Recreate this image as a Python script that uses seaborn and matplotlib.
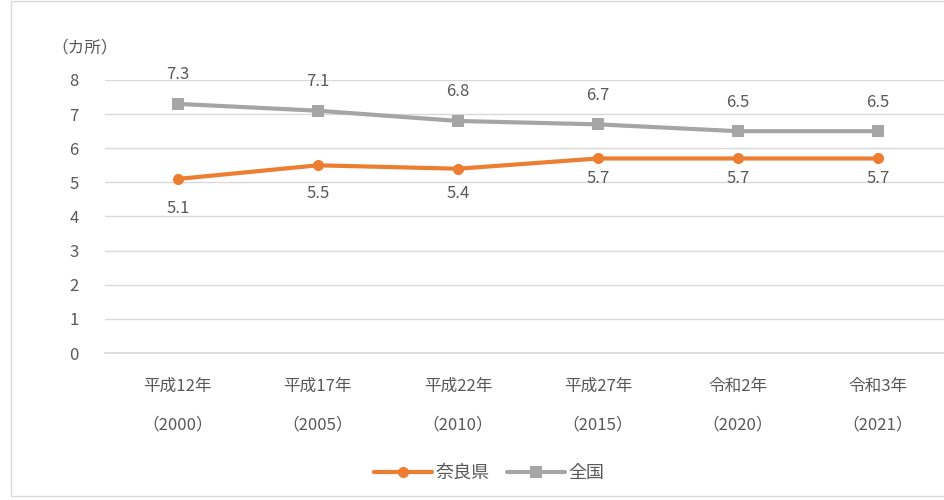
import pandas as pd
import matplotlib.pyplot as plt
import seaborn as sns

years = ["平成12年\n（2000）", "平成17年\n（2005）", "平成22年\n（2010）",
         "平成27年\n（2015）", "令和2年\n（2020）", "令和3年\n（2021）"]
nara = [5.1, 5.5, 5.4, 5.7, 5.7, 5.7]
zenkoku = [7.3, 7.1, 6.8, 6.7, 6.5, 6.5]

df = pd.DataFrame({
    "year": years * 2,
    "value": nara + zenkoku,
    "area": ["奈良県"] * len(years) + ["全国"] * len(years),
})

sns.set_theme(style="white")
plt.rcParams['font.family'] = ['Noto Sans CJK JP', 'DejaVu Sans']
txt = "#595959"

fig = plt.figure(figsize=(9.44, 5), dpi=100)
ax = fig.add_axes([0.111, 0.294, 0.889, 0.546])

palette = {"奈良県": "#ED7D31", "全国": "#A5A5A5"}
sns.lineplot(data=df, x="year", y="value", hue="area", style="area",
             markers={"奈良県": "o", "全国": "s"}, dashes=False,
             palette=palette, linewidth=3, markersize=8,
             markeredgewidth=0, sort=False, ax=ax)

# label offsets (points) as placed in the original chart
nara_off = [-21.5, -20, -17.5, -14.5, -14.5, -14.5]
for i, v in enumerate(zenkoku):
    ax.annotate(f"{v}", (i, v), xytext=(0, 21), textcoords="offset points",
                ha="center", va="center", fontsize=12, color=txt)
for i, v in enumerate(nara):
    ax.annotate(f"{v}", (i, v), xytext=(0, nara_off[i]), textcoords="offset points",
                ha="center", va="center", fontsize=12, color=txt)

ax.set_ylim(0, 8)
ax.set_yticks(range(0, 9))
ax.set_xlim(-0.521, 5.471)
ax.yaxis.grid(True, color="#D9D9D9", linewidth=1)
ax.set_axisbelow(True)
for s in ["top", "right", "left"]:
    ax.spines[s].set_visible(False)
ax.spines["bottom"].set_color("#D9D9D9")
ax.tick_params(axis="both", length=0, colors=txt, labelsize=12)
ax.tick_params(axis="y", pad=19)
ax.tick_params(axis="x", pad=18)
for lab in ax.get_xticklabels():
    lab.set_linespacing(2.65)
ax.set_xlabel("")
ax.set_ylabel("")

fig.text(0.09, 0.905, "（カ所）", ha="center", va="center", fontsize=12, color=txt)

handles, labels = ax.get_legend_handles_labels()
ax.legend(handles, labels, loc="center", bbox_to_anchor=(0.458, -0.44),
          ncol=2, frameon=False, fontsize=13, labelcolor=txt,
          handlelength=3.2, columnspacing=1.0, handletextpad=0.2)

fig.patches.append(plt.Rectangle((0.012, 0.008), 1.1, 0.99, transform=fig.transFigure,
                                 fill=False, edgecolor="#D9D9D9", linewidth=1))

fig.savefig("out.png", dpi=100)
